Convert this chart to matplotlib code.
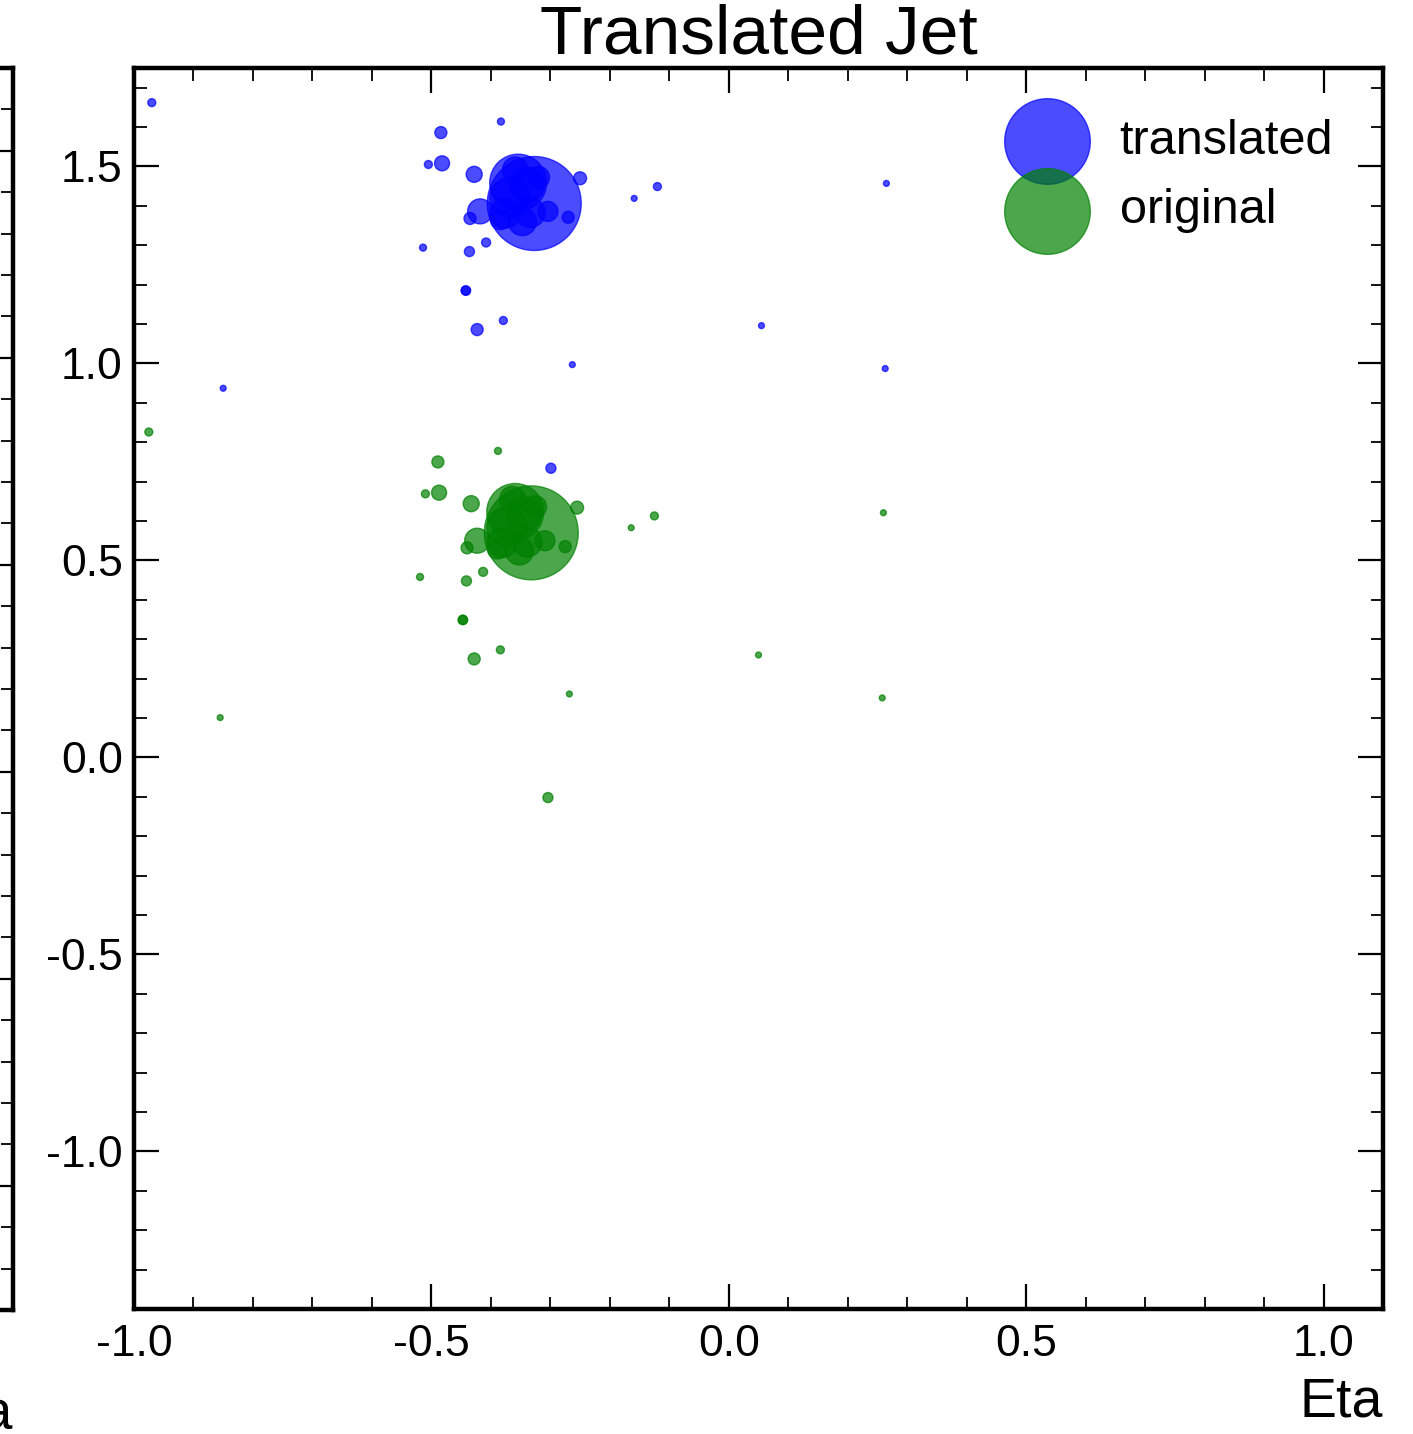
import matplotlib
matplotlib.use("Agg")
import matplotlib.pyplot as plt
from matplotlib.ticker import MultipleLocator

plt.rcParams['font.family'] = ['Liberation Sans', 'DejaVu Sans']
plt.rcParams['axes.unicode_minus'] = False

# constituents of the translated jet (eta, phi, pt)
trans_eta = [-0.970, -0.484, -0.383, -0.505, -0.482, -0.428, -0.250, -0.120, -0.159, 0.265,
             -0.327, -0.354, -0.418, -0.435, -0.304, -0.270, -0.368, -0.339, -0.376, -0.334,
             -0.347, -0.384, -0.359, -0.320, -0.514, -0.436, -0.408, -0.442, -0.442, -0.423,
             -0.379, 0.055, -0.263, 0.263, -0.850, -0.299]
trans_phi = [1.662, 1.586, 1.614, 1.505, 1.508, 1.480, 1.470, 1.449, 1.419, 1.457,
             1.406, 1.459, 1.386, 1.368, 1.386, 1.371, 1.421, 1.454, 1.381, 1.383,
             1.360, 1.365, 1.492, 1.472, 1.294, 1.284, 1.307, 1.185, 1.185, 1.086,
             1.109, 1.096, 0.997, 0.987, 0.937, 0.734]

# constituents of the original jet
orig_eta = [-0.975, -0.489, -0.388, -0.510, -0.487, -0.433, -0.255, -0.125, -0.164, 0.260,
            -0.332, -0.359, -0.423, -0.440, -0.309, -0.275, -0.373, -0.344, -0.381, -0.339,
            -0.352, -0.389, -0.364, -0.325, -0.519, -0.441, -0.413, -0.447, -0.447, -0.428,
            -0.384, 0.050, -0.268, 0.258, -0.855, -0.304]
orig_phi = [0.826, 0.750, 0.778, 0.669, 0.672, 0.644, 0.634, 0.613, 0.583, 0.621,
            0.570, 0.623, 0.550, 0.532, 0.550, 0.535, 0.585, 0.618, 0.545, 0.547,
            0.524, 0.529, 0.656, 0.636, 0.458, 0.448, 0.471, 0.349, 0.349, 0.250,
            0.273, 0.260, 0.161, 0.151, 0.101, -0.102]

# pt of each constituent (same for both jets)
pt = [2.2, 5.0, 1.7, 2.2, 7.8, 8.9, 5.8, 2.2, 1.2, 1.2,
      305, 112, 21.6, 5.0, 13.8, 5.0, 55, 42, 31, 31,
      27, 14, 22, 17, 1.7, 3.5, 2.8, 3.0, 3.0, 5.0,
      2.2, 1.2, 1.2, 1.2, 1.2, 3.5]

size_scale = 15


def style_axes(ax):
    for s in ax.spines.values():
        s.set_linewidth(3.2)
    ax.tick_params(which='both', direction='in', top=True, right=True)
    ax.tick_params(which='major', length=18, width=1.6, labelsize=32)
    ax.tick_params(which='minor', length=9, width=1.3)
    ax.tick_params(axis='x', which='major', pad=11)
    ax.tick_params(axis='y', which='major', pad=8)
    ax.xaxis.set_major_locator(MultipleLocator(0.5))
    ax.xaxis.set_minor_locator(MultipleLocator(0.1))
    ax.yaxis.set_major_locator(MultipleLocator(0.5))
    ax.yaxis.set_minor_locator(MultipleLocator(0.1))


fig = plt.figure(figsize=(14.13, 14.34), dpi=100)

# neighbouring panel, mostly out of frame
ax0 = fig.add_axes([-0.8747, 0.0865, 0.8839, 0.8661])
style_axes(ax0)
ax0.set_xlim(-1.0, 1.1)
ax0.set_ylim(-1.3, 1.7)
ax0.tick_params(labelbottom=False, labelleft=False)
ax0.set_xlabel("Eta", fontsize=40, loc='right', labelpad=53)

ax = fig.add_axes([0.0948, 0.0872, 0.8840, 0.8654])
style_axes(ax)
sizes = [p * size_scale for p in pt]
ax.scatter(trans_eta, trans_phi, s=sizes, color='blue', alpha=0.7, label='translated')
ax.scatter(orig_eta, orig_phi, s=sizes, color='green', alpha=0.7, label='original')
ax.set_xlim(-1.0, 1.1)
ax.set_ylim(-1.4, 1.75)
ax.set_xlabel("Eta", fontsize=40, loc='right', labelpad=8)
ax.set_title("Translated Jet", fontsize=50, pad=10)

leg = ax.legend(loc='upper right', frameon=False, fontsize=35,
                handletextpad=0.5, bbox_to_anchor=(0.995, 0.994))
for h in leg.legend_handles:
    h.set_sizes([3800])

fig.savefig("out.png", dpi=100)
